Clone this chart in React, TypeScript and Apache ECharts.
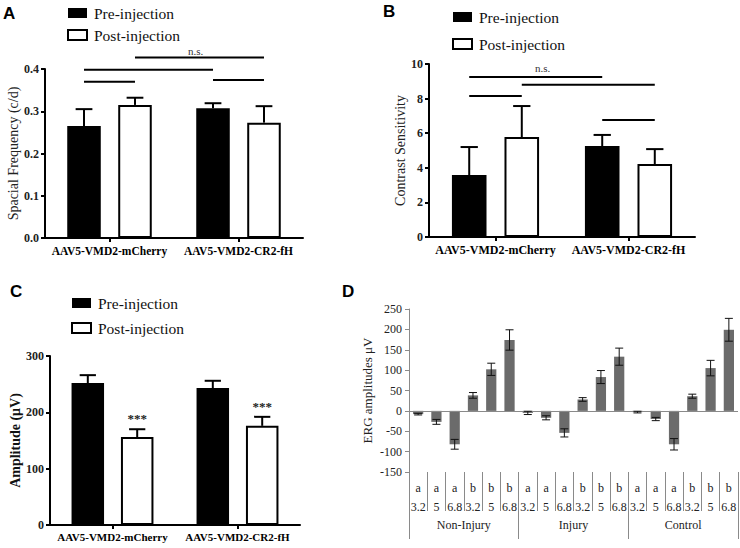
import React, { useEffect, useRef } from "react";
import * as echarts from "echarts";

// ---------- data ----------
const groupsAB = ["AAV5-VMD2-mCherry", "AAV5-VMD2-CR2-fH"];
const seriesNames = ["Pre-injection", "Post-injection"];

const spatialPre = [0.265, 0.307];
const spatialPreErr = [0.04, 0.012];
const spatialPost = [0.315, 0.273];
const spatialPostErr = [0.017, 0.039];

const contrastPre = [3.58, 5.26];
const contrastPreErr = [1.62, 0.64];
const contrastPost = [5.78, 4.22];
const contrastPostErr = [1.79, 0.86];

const ampPre = [252, 243];
const ampPreErr = [14, 13];
const ampPost = [156, 176];
const ampPostErr = [14, 16];
const ampPostSig = ["***", "***"];

// significance brackets: [fromBar, toBar, y]; bar index = group * 2 + series
const sigA = [
  [0, 1, 0.37],
  [0, 2, 0.398],
  [1, 3, 0.427],
  [2, 3, 0.374],
];
const sigB = [
  [0, 1, 8.15],
  [0, 2, 9.25],
  [1, 3, 8.8],
  [2, 3, 6.76],
];

const ergGroups = ["Non-Injury", "Injury", "Control"];
const ergLetters = ["a", "a", "a", "b", "b", "b", "a", "a", "a", "b", "b", "b", "a", "a", "a", "b", "b", "b"];
const ergDoses = ["3.2", "5", "6.8", "3.2", "5", "6.8", "3.2", "5", "6.8", "3.2", "5", "6.8", "3.2", "5", "6.8", "3.2", "5", "6.8"];
const ergValues = [-8, -27, -82, 38, 102, 174, -5, -17, -54, 28, 83, 133, -3, -20, -82, 36, 105, 199];
const ergErr = [2, 6, 12, 7, 15, 25, 4, 5, 10, 4.5, 16, 21, 2, 4, 14, 5, 19, 28];

// ---------- helpers ----------
const SERIF = "'Liberation Serif', 'Times New Roman', serif";
const SANS = "'Liberation Sans', Arial, sans-serif";
const BW = 0.26;
const GAP = 0.52;

function barX(api: any, cat: number, side: number) {
  const c = api.coord([cat, 0])[0];
  const band = api.size([1, 0])[0];
  const bw = band * BW;
  return c + (side === 0 ? -1 : 1) * (bw + bw * GAP) / 2;
}

function errData(pre: number[], preErr: number[], post: number[], postErr: number[]) {
  const out: any[] = [];
  pre.forEach((v, i) => out.push([i, 0, v, preErr[i]]));
  post.forEach((v, i) => out.push([i, 1, v, postErr[i]]));
  return out;
}

function makeErrRender(stars?: string[]) {
  return (params: any, api: any) => {
    const cat = api.value(0);
    const side = api.value(1);
    const v = api.value(2);
    const e = api.value(3);
    const x = barX(api, cat, side);
    const y0 = api.coord([cat, v])[1];
    const y1 = api.coord([cat, v + e])[1];
    const band = api.size([1, 0])[0];
    const cw = (band * BW) / 4;
    const children: any[] = [
      { type: "line", shape: { x1: x, y1: y0, x2: x, y2: y1 }, style: { stroke: "#000", lineWidth: 2 } },
      { type: "line", shape: { x1: x - cw, y1: y1, x2: x + cw, y2: y1 }, style: { stroke: "#000", lineWidth: 2 } },
    ];
    if (stars && side === 1) {
      children.push({
        type: "text",
        style: {
          text: stars[cat],
          x: x,
          y: y1 - 4,
          align: "center",
          verticalAlign: "bottom",
          font: `bold 13px ${SERIF}`,
          fill: "#222",
        },
      });
    }
    return { type: "group", children };
  };
}

function sigRender(params: any, api: any) {
  const from = api.value(0);
  const to = api.value(1);
  const yv = api.value(2);
  const x1 = barX(api, Math.floor(from / 2), from % 2);
  const x2 = barX(api, Math.floor(to / 2), to % 2);
  const y = api.coord([0, yv])[1];
  return { type: "line", shape: { x1, y1: y, x2, y2: y }, style: { stroke: "#000", lineWidth: 2 } };
}

function catAxis(grid: number, fontSize: number, margin: number) {
  return {
    type: "category",
    gridIndex: grid,
    data: groupsAB,
    boundaryGap: true,
    axisLine: { show: true, onZero: false, lineStyle: { color: "#000", width: 2 } },
    axisTick: { show: true, alignWithLabel: true, length: 4, lineStyle: { color: "#000", width: 2 } },
    axisLabel: { interval: 0, fontFamily: SERIF, fontWeight: "bold", fontSize, color: "#000", margin },
  };
}

function valAxis(grid: number, max: number, interval: number, name: string, nameGap: number, nameFont: any, decimals: number) {
  return {
    type: "value",
    gridIndex: grid,
    min: 0,
    max,
    interval,
    name,
    nameLocation: "middle",
    nameGap,
    nameTextStyle: nameFont,
    splitLine: { show: false },
    axisLine: { show: true, lineStyle: { color: "#000", width: 2 } },
    axisTick: { show: true, length: 4, lineStyle: { color: "#000", width: 2 } },
    axisLabel: {
      fontFamily: SERIF,
      fontWeight: "bold",
      fontSize: 12,
      color: "#222",
      margin: 6,
      formatter: (v: number) => v.toFixed(decimals),
    },
  };
}

function barPair(xi: number, pre: number[], post: number[]) {
  return [
    {
      name: seriesNames[0],
      type: "bar",
      xAxisIndex: xi,
      yAxisIndex: xi,
      data: pre,
      barWidth: BW * 100 + "%",
      barGap: GAP * 100 + "%",
      itemStyle: { color: "#000" },
    },
    {
      name: seriesNames[1],
      type: "bar",
      xAxisIndex: xi,
      yAxisIndex: xi,
      data: post,
      barWidth: BW * 100 + "%",
      barGap: GAP * 100 + "%",
      itemStyle: { color: "#fff", borderColor: "#000", borderWidth: 2 },
    },
  ];
}

function legend(left: number, top: number, gap: number) {
  return {
    data: seriesNames,
    left,
    top,
    padding: 0,
    orient: "vertical",
    icon: "rect",
    itemWidth: 19,
    itemHeight: 10,
    itemGap: gap,
    selectedMode: false,
    textStyle: { fontFamily: SERIF, fontSize: 15.5, lineHeight: 16, color: "#111", padding: [0, 0, 0, 2] },
  };
}

export default function App() {
  const ref = useRef<HTMLDivElement>(null);

  useEffect(() => {
    if (!ref.current) return;
    const chart = echarts.init(ref.current, null, { renderer: "svg" });

    const ergIds = ergValues.map((_, i) => "c" + i);
    const option: any = {
      animation: false,
      backgroundColor: "#fff",
      legend: [legend(67, 5, 6), legend(452, 9, 11), legend(71, 295, 9)],
      grid: [
        { left: 45, top: 69, width: 258, height: 169 },
        { left: 429, top: 64, width: 266, height: 173 },
        { left: 50, top: 356, width: 250, height: 169 },
        { left: 409, top: 309, width: 329, height: 163 },
      ],
      xAxis: [
        catAxis(0, 11.5, 7),
        catAxis(1, 12, 7),
        catAxis(2, 11, 6),
        {
          type: "category",
          gridIndex: 3,
          data: ergIds,
          boundaryGap: true,
          position: "bottom",
          axisLine: { show: false, onZero: false },
          axisTick: { show: true, interval: 0, length: 39, lineStyle: { color: "#8a8a8a", width: 1 } },
          axisLabel: {
            interval: 0,
            margin: 6,
            fontFamily: SERIF,
            fontSize: 12,
            lineHeight: 19,
            color: "#222",
            formatter: (_v: string, i: number) => ergLetters[i] + "\n" + ergDoses[i],
          },
        },
        {
          type: "category",
          gridIndex: 3,
          data: ergGroups,
          boundaryGap: true,
          position: "bottom",
          axisLine: { show: false, onZero: false },
          axisTick: { show: true, interval: 0, length: 67, lineStyle: { color: "#8a8a8a", width: 1 } },
          axisLabel: { interval: 0, margin: 47, fontFamily: SERIF, fontSize: 12, color: "#222" },
        },
      ],
      yAxis: [
        valAxis(0, 0.4, 0.1, "Spacial Frequency (c/d)", 22, { fontFamily: SERIF, fontSize: 14, color: "#222" }, 1),
        valAxis(1, 10, 2, "Contrast Sensitivity", 20, { fontFamily: SERIF, fontSize: 14, color: "#222" }, 0),
        valAxis(2, 300, 100, "Amplitude (\u03bcV)", 26, { fontFamily: SERIF, fontSize: 14, fontWeight: "bold", color: "#111" }, 0),
        {
          type: "value",
          gridIndex: 3,
          min: -150,
          max: 250,
          interval: 50,
          name: "ERG amplitudes \u03bcV",
          nameLocation: "middle",
          nameGap: 35,
          nameTextStyle: { fontFamily: SERIF, fontSize: 13, color: "#222" },
          splitLine: { show: false },
          axisLine: { show: true, lineStyle: { color: "#8a8a8a", width: 1 } },
          axisTick: { show: true, length: 4, lineStyle: { color: "#8a8a8a", width: 1 } },
          axisLabel: { fontFamily: SERIF, fontSize: 12, color: "#222", margin: 7 },
        },
      ],
      series: [
        ...barPair(0, spatialPre, spatialPost),
        ...barPair(1, contrastPre, contrastPost),
        ...barPair(2, ampPre, ampPost),
        {
          type: "custom",
          xAxisIndex: 0,
          yAxisIndex: 0,
          clip: false,
          z: 5,
          data: errData(spatialPre, spatialPreErr, spatialPost, spatialPostErr),
          renderItem: makeErrRender(),
        },
        {
          type: "custom",
          xAxisIndex: 1,
          yAxisIndex: 1,
          clip: false,
          z: 5,
          data: errData(contrastPre, contrastPreErr, contrastPost, contrastPostErr),
          renderItem: makeErrRender(),
        },
        {
          type: "custom",
          xAxisIndex: 2,
          yAxisIndex: 2,
          clip: false,
          z: 5,
          data: errData(ampPre, ampPreErr, ampPost, ampPostErr),
          renderItem: makeErrRender(ampPostSig),
        },
        {
          type: "custom",
          xAxisIndex: 0,
          yAxisIndex: 0,
          clip: false,
          z: 5,
          data: sigA,
          renderItem: sigRender,
        },
        {
          type: "custom",
          xAxisIndex: 1,
          yAxisIndex: 1,
          clip: false,
          z: 5,
          data: sigB,
          renderItem: sigRender,
        },
        {
          name: "ERG",
          type: "bar",
          xAxisIndex: 3,
          yAxisIndex: 3,
          data: ergValues,
          barWidth: "56%",
          itemStyle: { color: "#6b6b6b" },
          markLine: {
            silent: true,
            symbol: ["none", "none"],
            label: { show: false },
            lineStyle: { color: "#8a8a8a", type: "solid", width: 1 },
            data: [{ yAxis: 0 }],
          },
        },
        {
          type: "custom",
          xAxisIndex: 3,
          yAxisIndex: 3,
          clip: false,
          z: 5,
          data: ergValues.map((v, i) => [i, v, ergErr[i]]),
          renderItem: (params: any, api: any) => {
            const i = api.value(0);
            const v = api.value(1);
            const e = api.value(2);
            const x = api.coord([i, 0])[0];
            const yt = api.coord([i, v + e])[1];
            const yb = api.coord([i, v - e])[1];
            const cw = 4;
            const st = { stroke: "#111", lineWidth: 1 };
            return {
              type: "group",
              children: [
                { type: "line", shape: { x1: x, y1: yt, x2: x, y2: yb }, style: st },
                { type: "line", shape: { x1: x - cw, y1: yt, x2: x + cw, y2: yt }, style: st },
                { type: "line", shape: { x1: x - cw, y1: yb, x2: x + cw, y2: yb }, style: st },
              ],
            };
          },
        },
      ],
      graphic: [
        { type: "text", left: 3, top: 5, style: { text: "A", font: `bold 17px ${SANS}`, fill: "#000" } },
        { type: "text", left: 383, top: 3, style: { text: "B", font: `bold 17px ${SANS}`, fill: "#000" } },
        { type: "text", left: 10, top: 283, style: { text: "C", font: `bold 17px ${SANS}`, fill: "#000" } },
        { type: "text", left: 342, top: 283, style: { text: "D", font: `bold 17px ${SANS}`, fill: "#000" } },
        { type: "text", left: 188, top: 45, style: { text: "n.s.", font: `11px ${SERIF}`, fill: "#333" } },
        { type: "text", left: 535, top: 62, style: { text: "n.s.", font: `11px ${SERIF}`, fill: "#333" } },
      ],
    };

    chart.setOption(option);
    return () => chart.dispose();
  }, []);

  return (
    <div
      ref={ref}
      style={{ position: "absolute", left: 0, top: 0, width: 740, height: 548, background: "#fff" }}
    />
  );
}
